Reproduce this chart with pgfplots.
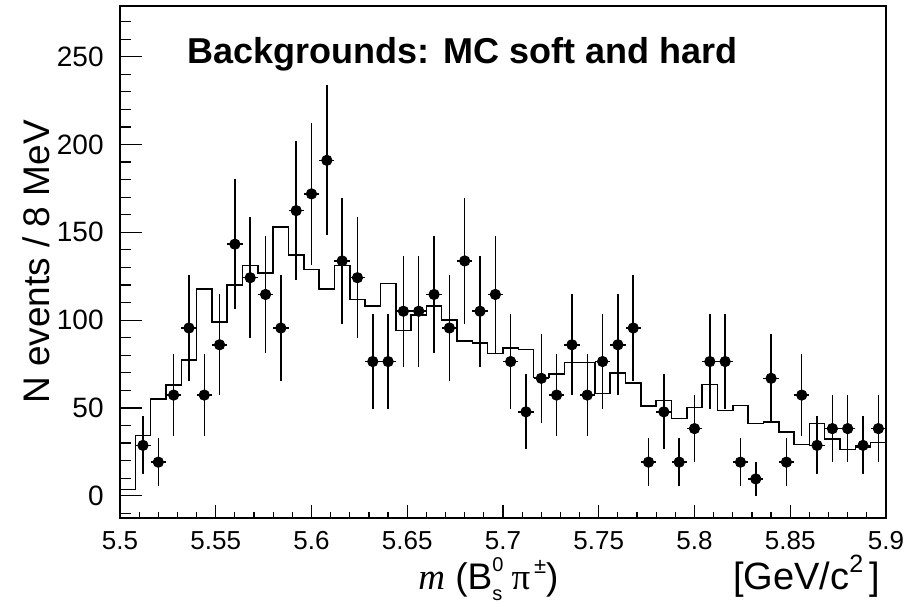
\documentclass[border=0pt]{standalone}
\usepackage{pgfplots}
\pgfplotsset{compat=1.18}
\usepackage{fontspec}
\setmainfont{Liberation Sans}
\newfontfamily\serif{Liberation Serif}
\begin{document}
\begin{tikzpicture}
\useasboundingbox (-60pt,-42.5pt) rectangle (400.5pt,259pt);
\pgfplotsset{
  myframe/.style={
    at={(0pt,0pt)}, anchor=south west, scale only axis,
    width=383pt, height=256pt,
    xmin=5.5, xmax=5.9, ymin=-12.7, ymax=278.9,
    tick align=inside, tick pos=left,
    axis line style={line width=0.8pt},
    every tick/.style={black, line width=0.6pt},
    /pgf/number format/assume math mode=true,
  }
}
\begin{axis}[myframe,
  xtick={5.5,5.55,5.6,5.65,5.7,5.75,5.8,5.85,5.9},
  xticklabels={5.5,5.55,5.6,5.65,5.7,5.75,5.8,5.85,5.9},
  minor xtick={5.51,5.52,5.53,5.54,5.56,5.57,5.58,5.59,5.61,5.62,5.63,5.64,5.66,5.67,5.68,5.69,5.71,5.72,5.73,5.74,5.76,5.77,5.78,5.79,5.81,5.82,5.83,5.84,5.86,5.87,5.88,5.89},
  major tick length=6.5pt, minor tick length=3.2pt,
  ytick=\empty,
  xticklabel style={font=\fontsize{13}{15}\selectfont, inner sep=0pt, anchor=north, yshift=-6.5pt},
  clip=false,
]
\addplot[const plot mark left, black, line width=0.75pt] table[x=x,y=y] {
x y
5.500 3.6
5.508 34.2
5.516 55.0
5.524 63.0
5.532 77.2
5.540 117.8
5.548 99.0
5.556 119.9
5.564 131.1
5.572 126.9
5.580 152.9
5.588 137.0
5.596 128.8
5.604 117.8
5.612 131.1
5.620 111.8
5.628 108.0
5.636 120.9
5.644 94.1
5.652 103.0
5.660 108.0
5.668 100.0
5.676 88.2
5.684 87.1
5.692 81.0
5.700 84.1
5.708 83.3
5.716 67.2
5.724 69.3
5.732 75.9
5.740 75.9
5.748 58.3
5.756 70.0
5.764 64.3
5.772 51.2
5.780 54.1
5.788 44.0
5.796 50.3
5.804 63.2
5.812 48.4
5.820 51.4
5.828 41.2
5.836 42.1
5.844 36.4
5.852 29.2
5.860 41.2
5.868 32.3
5.876 26.2
5.884 27.7
5.892 30.4
5.900 30.4
};
\addplot[only marks, mark=*, mark size=2.6pt, black,
  error bars/.cd, x dir=both, x explicit, y dir=both, y explicit,
  error mark=none, error bar style={line width=0.75pt, black}]
  table[x=x, y=y, x error=ex, y error=ey] {
x y ex ey
5.512 28.65 0.004 16.54
5.520 19.10 0.004 13.51
5.528 57.30 0.004 23.39
5.536 95.50 0.004 30.20
5.544 57.30 0.004 23.39
5.552 85.95 0.004 28.65
5.560 143.25 0.004 36.99
5.568 124.15 0.004 34.43
5.576 114.60 0.004 33.08
5.584 95.50 0.004 30.20
5.592 162.35 0.004 39.38
5.600 171.90 0.004 40.52
5.608 191.00 0.004 42.71
5.616 133.70 0.004 35.73
5.624 124.15 0.004 34.43
5.632 76.40 0.004 27.01
5.640 76.40 0.004 27.01
5.648 105.05 0.004 31.67
5.656 105.05 0.004 31.67
5.664 114.60 0.004 33.08
5.672 95.50 0.004 30.20
5.680 133.70 0.004 35.73
5.688 105.05 0.004 31.67
5.696 114.60 0.004 33.08
5.704 76.40 0.004 27.01
5.712 47.75 0.004 21.35
5.720 66.85 0.004 25.27
5.728 57.30 0.004 23.39
5.736 85.95 0.004 28.65
5.744 57.30 0.004 23.39
5.752 76.40 0.004 27.01
5.760 85.95 0.004 28.65
5.768 95.50 0.004 30.20
5.776 19.10 0.004 13.51
5.784 47.75 0.004 21.35
5.792 19.10 0.004 13.51
5.800 38.20 0.004 19.10
5.808 76.40 0.004 27.01
5.816 76.40 0.004 27.01
5.824 19.10 0.004 13.51
5.832 9.55 0.004 9.55
5.840 66.85 0.004 25.27
5.848 19.10 0.004 13.51
5.856 57.30 0.004 23.39
5.864 28.65 0.004 16.54
5.872 38.20 0.004 19.10
5.880 38.20 0.004 19.10
5.888 28.65 0.004 16.54
5.896 38.20 0.004 19.10
};
\node[anchor=base west, font=\fontsize{18}{21}\selectfont\bfseries, inner sep=0pt] at (rel axis cs:0.088,0.887) {Backgrounds: MC soft and hard};
\node[anchor=base west, font=\fontsize{18.5}{21}\selectfont, inner sep=0pt] at ([xshift=149pt, yshift=-36pt]rel axis cs:0,0)
  {{\serif\itshape m} (B\rlap{\raisebox{0.95ex}{\fontsize{10}{10}\selectfont 0}}\raisebox{-0.55ex}{\fontsize{10}{10}\selectfont s}\hspace{0.25em}{\serif π}\hspace{0.1em}\raisebox{0.85ex}{\fontsize{11}{11}\selectfont \textpm})};
\node[anchor=base east, font=\fontsize{19}{22}\selectfont, inner sep=0pt] at ([xshift=-3pt, yshift=-36pt]rel axis cs:1,0)
  {[GeV/c\raisebox{0.85ex}{\fontsize{12.5}{13}\selectfont 2}\hspace{0.15em}]};
\node[rotate=90, anchor=center, font=\fontsize{18.5}{21}\selectfont, inner sep=0pt] at ([xshift=-42pt]rel axis cs:0,0.5) {N events / 8 MeV};
\end{axis}
\begin{axis}[myframe,
  xtick=\empty,
  ytick={0,50,100,150,200,250},
  minor ytick={-10,10,20,30,40,60,70,80,90,110,120,130,140,160,170,180,190,210,220,230,240,260,270},
  major tick length=11pt, minor tick length=5.5pt,
  yticklabel style={font=\fontsize{14}{16}\selectfont, inner sep=0pt, anchor=east, xshift=-8pt},
]
\end{axis}
\end{tikzpicture}
\end{document}
